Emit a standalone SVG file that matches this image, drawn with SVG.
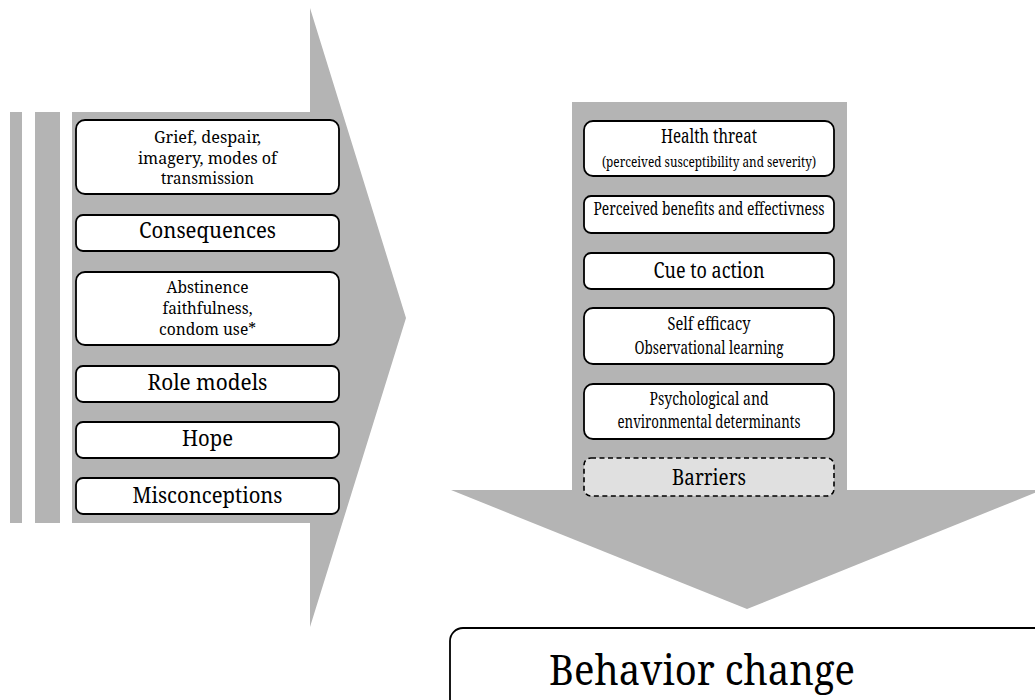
<svg xmlns="http://www.w3.org/2000/svg" width="1035" height="700" viewBox="0 0 1035 700">
<style>
.bg{fill:#b4b4b4;stroke:none}
.box{fill:#ffffff;stroke:#000;stroke-width:1.8}
.dash{fill:#e0e0e0;stroke:#000;stroke-width:1.6;stroke-dasharray:5 3.5}
text{fill:#000;text-anchor:middle}
.s18{font-size:16px}
.s24{font-size:22.5px}
</style>
<rect width="1035" height="700" fill="#fff"/>
<g id="left-arrow">
<rect class="bg" x="10" y="112" width="12" height="411"/>
<rect class="bg" x="35" y="112" width="25" height="411"/>
<polygon class="bg" points="72,112 310,112 310,8 406,318 310,627 310,523 72,523"/>
</g>
<g id="down-arrow">
<rect class="bg" x="572" y="102" width="275" height="389"/>
<polygon class="bg" points="451,490 1042,490 747,609"/>
</g>
<g font-family="Noto Serif, Times New Roman, DejaVu Serif, serif">
<g id="n-grief">
<rect class="box" x="76" y="120" width="263" height="74" rx="9"/>
<text class="s18" x="207.5" y="143" textLength="107" lengthAdjust="spacingAndGlyphs">Grief, despair,</text>
<text class="s18" x="207.5" y="163.5" textLength="139" lengthAdjust="spacingAndGlyphs">imagery, modes of</text>
<text class="s18" x="207.5" y="184" textLength="93" lengthAdjust="spacingAndGlyphs">transmission</text>
</g>
<g id="n-consequences">
<rect class="box" x="76" y="215" width="263" height="36" rx="7"/>
<text class="s24" x="207.5" y="238" textLength="137" lengthAdjust="spacingAndGlyphs">Consequences</text>
</g>
<g id="n-abstinence">
<rect class="box" x="76" y="272" width="263" height="73" rx="9"/>
<text class="s18" x="207.5" y="293" textLength="82" lengthAdjust="spacingAndGlyphs">Abstinence</text>
<text class="s18" x="207.5" y="314" textLength="90" lengthAdjust="spacingAndGlyphs">faithfulness,</text>
<text class="s18" x="207.5" y="335" textLength="97" lengthAdjust="spacingAndGlyphs">condom use*</text>
</g>
<g id="n-role">
<rect class="box" x="76" y="366" width="263" height="36" rx="7"/>
<text class="s24" x="207.5" y="390" textLength="120" lengthAdjust="spacingAndGlyphs">Role models</text>
</g>
<g id="n-hope">
<rect class="box" x="76" y="422" width="263" height="36" rx="7"/>
<text class="s24" x="207.5" y="446" textLength="51" lengthAdjust="spacingAndGlyphs">Hope</text>
</g>
<g id="n-misconceptions">
<rect class="box" x="76" y="478" width="263" height="36" rx="7"/>
<text class="s24" x="207.5" y="503" textLength="150" lengthAdjust="spacingAndGlyphs">Misconceptions</text>
</g>
<g id="n-health">
<rect class="box" x="584" y="121" width="250" height="55" rx="9"/>
<text x="709" y="143" font-size="19" textLength="96" lengthAdjust="spacingAndGlyphs">Health threat</text>
<text x="709" y="167" font-size="14" textLength="214" lengthAdjust="spacingAndGlyphs">(perceived susceptibility and severity)</text>
</g>
<g id="n-benefits">
<rect class="box" x="584" y="196" width="250" height="37" rx="7"/>
<text x="709" y="215" font-size="18" textLength="231" lengthAdjust="spacingAndGlyphs">Perceived benefits and effectivness</text>
</g>
<g id="n-cue">
<rect class="box" x="584" y="253" width="250" height="36" rx="7"/>
<text x="709" y="278" font-size="22.5" textLength="111" lengthAdjust="spacingAndGlyphs">Cue to action</text>
</g>
<g id="n-self">
<rect class="box" x="584" y="308" width="250" height="56" rx="9"/>
<text x="709" y="330" font-size="18" textLength="83" lengthAdjust="spacingAndGlyphs">Self efficacy</text>
<text x="709" y="354" font-size="18" textLength="149" lengthAdjust="spacingAndGlyphs">Observational learning</text>
</g>
<g id="n-psych">
<rect class="box" x="584" y="384" width="250" height="55" rx="9"/>
<text x="709" y="405" font-size="18" textLength="119" lengthAdjust="spacingAndGlyphs">Psychological and</text>
<text x="709" y="428" font-size="18" textLength="183" lengthAdjust="spacingAndGlyphs">environmental determinants</text>
</g>
<g id="n-barriers">
<rect class="dash" x="584" y="458" width="250" height="38" rx="7"/>
<text x="709" y="485" font-size="22" textLength="74" lengthAdjust="spacingAndGlyphs">Barriers</text>
</g>
<g id="n-behavior">
<rect class="box" x="450" y="628" width="600" height="100" rx="13"/>
<text x="702" y="685" font-size="41" textLength="306" lengthAdjust="spacingAndGlyphs">Behavior change</text>
</g>
</g>
<g id="connectors"></g>
</svg>
